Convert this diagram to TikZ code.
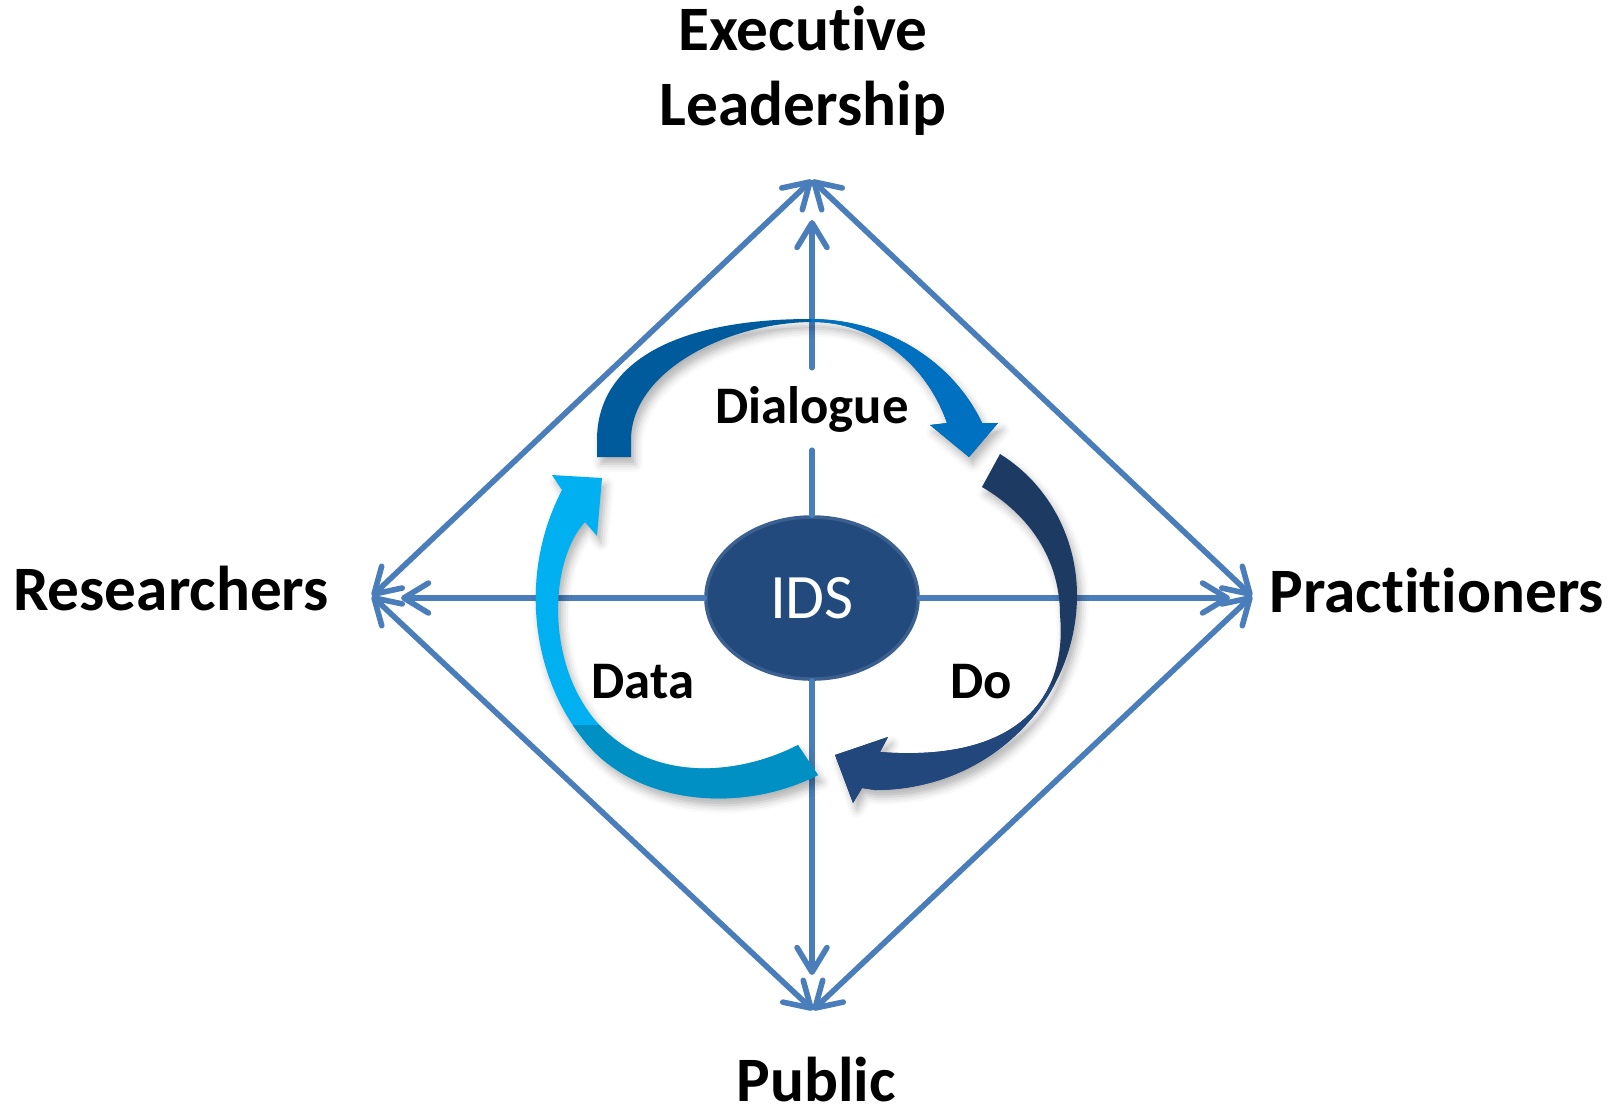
\documentclass[tikz,border=0pt]{standalone}
\usepackage{fontspec}
\setmainfont[Ligatures=NoCommon]{Carlito}
\usetikzlibrary{arrows.meta,shapes.geometric,shadows.blur}

\definecolor{linkblue}{HTML}{4A7EBB}
\definecolor{idsblue}{HTML}{224A7C}
\definecolor{idsrim}{HTML}{3B5F8F}
\definecolor{dlgdark}{HTML}{005B9C}
\definecolor{dlglight}{HTML}{0070C0}
\definecolor{dodark}{HTML}{1D3A63}
\definecolor{dolight}{HTML}{21477C}
\definecolor{datalight}{HTML}{00B0F0}
\definecolor{datadark}{HTML}{0090C4}

\begin{document}
\begin{tikzpicture}[x=0.01cm,y=-0.01cm,>={Straight Barb[length=7pt,width=8.5pt,round]}]
    % Styles
    \tikzstyle{link}=[draw=linkblue,line width=1.6pt,line cap=round]
    \tikzstyle{party}=[font=\bfseries\fontsize{18}{21.3}\selectfont,align=center,inner sep=0pt]
    \tikzstyle{phase}=[font=\bfseries\fontsize{15}{18}\selectfont,inner sep=0pt]
    \tikzstyle{loopband}=[blur shadow={shadow xshift=.4mm,shadow yshift=-.7mm,shadow blur radius=.8mm,shadow opacity=30}]

    \useasboundingbox (0,0) rectangle (1624,1114);

    % Corners of the diamond and inner arrow tips
    \coordinate (n_top)   at (812,180);
    \coordinate (n_left)  at (372,596);
    \coordinate (n_right) at (1252,596);
    \coordinate (n_bot)   at (813,1010);
    \coordinate (t_up)    at (812,220);
    \coordinate (t_dn)    at (812,975);
    \coordinate (t_lf)    at (401,598);
    \coordinate (t_rt)    at (1230,598);

    % Nodes and labels
    \node[party,anchor=base] (exec)  at (803,125)  {Executive\\Leadership};
    \node[party,anchor=base] (res)   at (171,610)  {Researchers};
    \node[party,anchor=base] (prac)  at (1437,612) {Practitioners};
    \node[party,anchor=base] (pub)   at (816,1101) {Public};

    \node[ellipse,fill=idsblue,draw=idsrim,line width=1pt,minimum width=2.12cm,
          minimum height=1.62cm,inner sep=0pt,text=white,
          font=\fontsize{18}{20}\selectfont] (ids) at (812,598) {IDS};
    \node[phase,anchor=base,inner ysep=5pt] (dialogue) at (812,423) {Dialogue};

    % Diamond edges
    \draw[link,<->] (n_left)  -- (n_top);
    \draw[link,<->] (n_right) -- (n_top);
    \draw[link,<->] (n_left)  -- (n_bot);
    \draw[link,<->] (n_right) -- (n_bot);

    % Spokes
    \draw[link] (ids) -- (dialogue);
    \draw[link,->] (dialogue) -- (t_up);
    \draw[link,->] (ids) -- (t_dn);
    \draw[link,->] (ids) -- (t_lf);
    \draw[link,->] (ids) -- (t_rt);

    % Cycle arrows
    \fill[loopband,dlgdark,path picture={\fill[dlglight] (811,290) rectangle (1010,470);}]
      (597,457) -- (597,440) .. controls (597,360) and (680,319) .. (810,319)
      .. controls (890,319) and (955,365) .. (982,423)
      -- (998,423) -- (969,457) -- (930,425) -- (947,423)
      .. controls (925,360) and (870,322) .. (813,322)
      .. controls (730,322) and (631,370) .. (631,440) -- (631,457) -- cycle;

    \fill[loopband,dodark,path picture={\fill[dolight] (820,685) rectangle (1090,820);}]
      (1000,454) .. controls (1050,485) and (1077,540) .. (1077,595)
      .. controls (1077,700) and (990,790) .. (875,790) -- (862,788)
      -- (853,803) -- (835,755) -- (888,737) -- (880,752)
      .. controls (1010,762) and (1068,705) .. (1060,615)
      .. controls (1060,560) and (1030,515) .. (982,487) -- cycle;

    \fill[loopband,datalight,path picture={\fill[datadark] (520,725) rectangle (830,820);}]
      (818,775) .. controls (740,815) and (630,805) .. (580,735)
      .. controls (530,670) and (520,570) .. (562,490)
      -- (552,475) -- (602,478) -- (597,536) -- (585,522)
      .. controls (550,560) and (545,660) .. (595,720)
      .. controls (650,785) and (740,775) .. (798,745) -- cycle;

    % Phase labels
    \node[phase,anchor=base] (data) at (643,698) {Data};
    \node[phase,anchor=base] (do)   at (981,698) {Do};

\end{tikzpicture}
\end{document}
